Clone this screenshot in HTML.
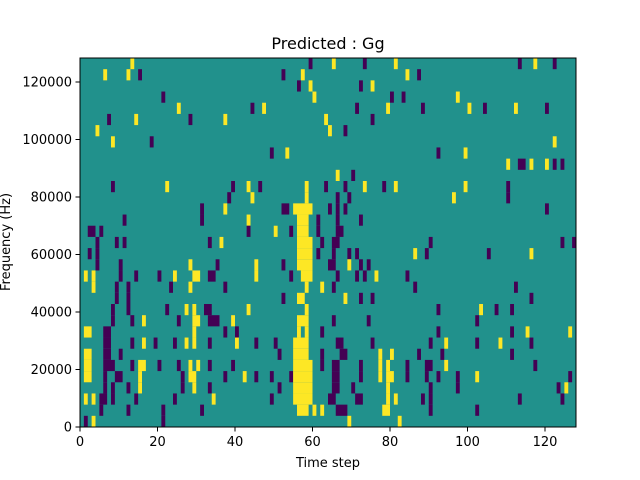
<!DOCTYPE html>
<html><head><meta charset="utf-8"><style>
html,body{margin:0;padding:0;background:#fff;}
svg{display:block;font-family:"DejaVu Sans","Liberation Sans",sans-serif;}
</style></head><body>
<svg id="s" width="640" height="480" xmlns="http://www.w3.org/2000/svg">
<rect x="0" y="0" width="640" height="480" fill="#fff"/>
<rect x="80" y="58" width="496" height="369" fill="#21918c"/>
<g id="cells"></g>
<rect x="80" y="58" width="496" height="369" fill="none" stroke="#000" stroke-width="1"/>
<g id="ticks" stroke="#000" stroke-width="1"></g>
<g font-size="13" fill="#000">
<text x="328" y="49" text-anchor="middle" font-size="16">Predicted : Gg</text>
<text x="328" y="467" text-anchor="middle">Time step</text>
<text transform="translate(10,242) rotate(-90)" text-anchor="middle">Frequency (Hz)</text>
</g>
<g id="labels" font-size="13" fill="#000"></g>
</svg>
<script>
var rows=[
"y13 p59 y65 p73 y81 p113 y117 p122",
"y6 y12 p15 p52 y57 y84 p87",
"p56 y59 p72 y75",
"p21 y60 p80 p83 y97",
"y25 p44 y47 p71 y79 p88 y100 p104 y112 p120",
"p7 y14 p28 y37 y63 p75",
"y4 y64 p68",
"y8 p18 y122",
"p49 y53 p92 y99",
"y110 p113-114 y116 y120 p122 p124",
"y66 p70",
"p8 y22 p39 y43 p46 y58 p63 p68 y73 p78 y81 y99 p110",
"p38 y44 y58 p66 p69 y96 p110",
"p31 y37 p52-53 y55-59 p64 p66 p68 p120",
"p11 p31 y43 y56-58 p61 p66 p72",
"p2-3 p5 p43 y50 p54 y56-58 p61 p66-67",
"p4 p9 p11 p33 y36 y56-59 p62 p65-66 p90 p124 p127",
"p2 p4 y56-59 p61 p65 p69 p71 y86 p89 p105 y116",
"p4 p10 y28 p35 y45 p52 y56-59 p64-65 y69 p72 p74",
"y1 y3 p10 p14 p20 y24 y29-30 p33-34 y45 p54 y57-59 p66 p71 p73 y76 p84",
"y3 p9 p12 p23 y28 p37 y58 y62 p65 p86 p112",
"p9 p12 p52 y56-57 y68 p72 p75 p116",
"p8 p12 p22 y27 y29 p32-33 y43 y58 p92 y103 p107 p111",
"p8 p13 y16 p25 y29-30 p33-35 y39 y56-58 p65 p74 p102",
"y1-2 p6-7 y29 p37 p40 y56 y58 p62 p92 p111 y115 y126",
"p6-7 p13 y16 p19 p24 y27 y29 p33 y40 p45 p50 y55-58 p66-67 p75 p90 y94 p102 y108 p116",
"y1-2 p6-7 p10 p51 y55-58 p62 p67-68 y77 y80 p87 p93 p111",
"y1-2 p6-8 p13 y15-16 p20 p25 y28 y30 p33 p39 y55-59 p62 p65-66 p72 y77 y79 p84 p89-90 y94 p117",
"y1-2 p6 p9-10 y15 p26 y28-29 p37 y42 p45 p49 p54 y55-59 p65-66 p72 y77 y79-80 p84 p89 p92 p97 y102 p126",
"p6 p8 p12 y15 p26 y29 p33 p51 y55-59 p65-66 p70 y79 p90 p97 p123 y125",
"y1 y3 p5-6 p8 p14 p24 y34 p49 y55-59 p64-65 p71-72 y79 y81 p88 p90 p113 p124",
"p5 p12 p21 p31 y56-58 y60 y62 p66-68 y78-79 p90 p102",
"p1 y3 p21 y69 y82"];
var NS="http://www.w3.org/2000/svg",g=document.getElementById("cells");
var cw=3.875,rh=369/33;
rows.forEach(function(r,i){r.split(" ").forEach(function(t){
 var c=t[0]=="y"?"#fde725":"#440154";var p=t.slice(1).split("-");var a=+p[0],b=p.length>1?+p[1]:a;
 var e=document.createElementNS(NS,"rect");
 e.setAttribute("x",80+a*cw);e.setAttribute("y",58+i*rh);
 e.setAttribute("width",(b-a+1)*cw);e.setAttribute("height",rh);e.setAttribute("fill",c);g.appendChild(e);});});
var tk=document.getElementById("ticks"),lb=document.getElementById("labels");
function ln(x1,y1,x2,y2){var e=document.createElementNS(NS,"line");e.setAttribute("x1",x1);e.setAttribute("y1",y1);e.setAttribute("x2",x2);e.setAttribute("y2",y2);tk.appendChild(e);}
function tx(x,y,s,anc){var e=document.createElementNS(NS,"text");e.setAttribute("x",x);e.setAttribute("y",y);e.setAttribute("text-anchor",anc);e.textContent=s;lb.appendChild(e);}
for(var v=0;v<=120;v+=20){var x=80+v*cw;ln(x,427,x,431.5);tx(x,446,""+v,"middle");}
for(var v=0;v<=120000;v+=20000){var y=427-v*0.002875;ln(75.5,y,80,y);tx(72,y+4.5,""+v,"end");}
</script>
</body></html>
